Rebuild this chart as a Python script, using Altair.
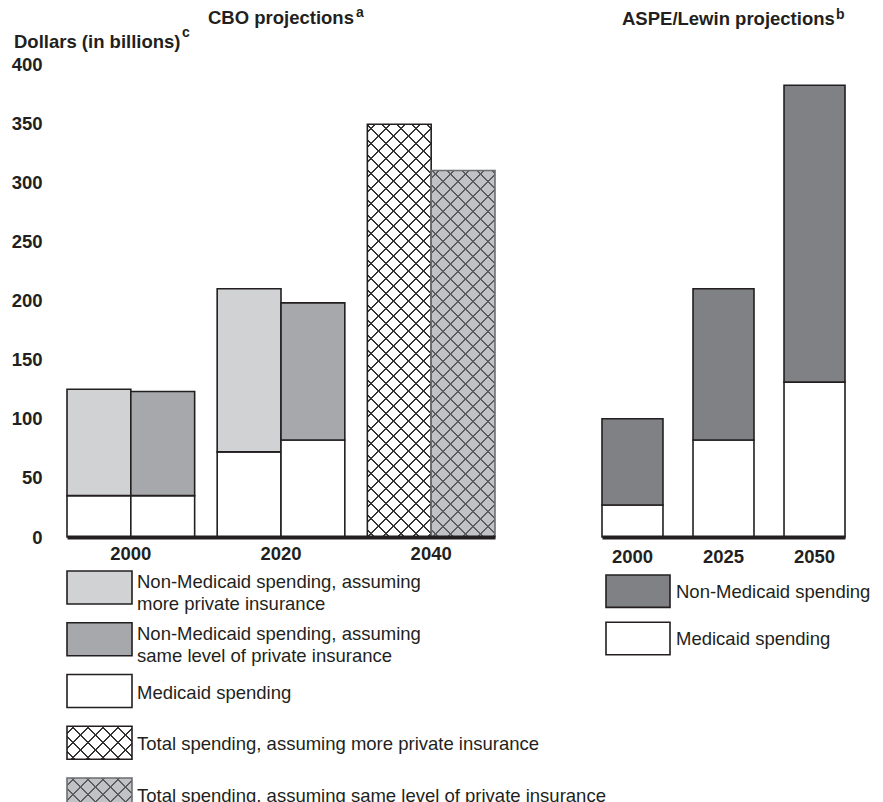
import altair as alt
import pandas as pd

# ---------------- data ----------------
cbo_years = ["2000", "2020", "2040"]
cbo_scenarios = ["more", "same"]
cbo_total_more = [125, 210, 349]
cbo_total_same = [123, 198, 310]
cbo_medicaid_more = [35, 72, None]
cbo_medicaid_same = [35, 82, None]

aspe_years = ["2000", "2025", "2050"]
aspe_total = [100, 210, 382]
aspe_medicaid = [27, 82, 131]

y_ticks = [0, 50, 100, 150, 200, 250, 300, 350, 400]

cbo_legend_labels = [
    "Non-Medicaid spending, assuming\nmore private insurance",
    "Non-Medicaid spending, assuming\nsame level of private insurance",
    "Medicaid spending",
    "Total spending, assuming more private insurance",
    "Total spending, assuming same level of private insurance",
]
cbo_legend_keys = ["nm_more", "nm_same", "med", "hatch_more", "hatch_same"]
aspe_legend_labels = ["Non-Medicaid spending", "Medicaid spending"]
aspe_legend_keys = ["aspe_nm", "med"]

cbo_title = "CBO projections"
aspe_title = "ASPE/Lewin projections"
y_title = "Dollars (in billions)"
sup_a, sup_b, sup_c = "a", "b", "c"

# ---------------- styles ----------------
DARK = "#231f20"
FONT = "Liberation Sans"
key_domain = ["nm_more", "nm_same", "med", "hatch_more", "hatch_same", "aspe_nm"]
key_range = ["#d1d2d4", "#a7a8ab", "#ffffff", "#ffffff", "#c1c2c5", "#808184"]
hatch_line = {"more": "#333333", "same": "#5c5c5e"}
hatch_edge = {"more": DARK, "same": "#6d6e71"}

CBO_W, ASPE_W, PLOT_H, Y_MAX = 428, 243, 473, 400
CBO_PAD, ASPE_PAD = 0.15, 0.33
PERIOD, LW = 15.0, 1.8
SW = 1.6
FS = 18.5

fill_scale = alt.Scale(domain=key_domain, range=key_range)
y_scale = alt.Scale(domain=[0, Y_MAX], nice=False)


def hatch_grad(w, h, color, rising):
    L = w + h
    a = L / (w * w + h * h)
    if rising:
        x1, y1, x2, y2 = 0, 0, a * w, a * h
    else:
        x1, y1, x2, y2 = 0, 1, a * w, 1 - a * h
    clear = "rgba(255,255,255,0)"
    stops = [{"offset": 0, "color": clear}]
    c = PERIOD / 2
    while c < L:
        t0 = max(0.0, (c - LW / 2) / L)
        t1 = min(1.0, (c + LW / 2) / L)
        stops += [
            {"offset": t0, "color": clear},
            {"offset": t0, "color": color},
            {"offset": t1, "color": color},
            {"offset": t1, "color": clear},
        ]
        c += PERIOD
    stops.append({"offset": 1, "color": clear})
    return {"gradient": "linear", "x1": x1, "y1": y1, "x2": x2, "y2": y2, "stops": stops}


def x_axis(pad):
    return alt.Axis(title=None, labelAngle=0, ticks=False, tickSize=0, domainWidth=4,
                    domainColor=DARK, labelFontSize=FS, labelFontWeight="bold",
                    labelColor=DARK, labelFont=FONT, labelPadding=pad, zindex=1)


cbo_y_axis = alt.Axis(values=y_ticks, title=None, ticks=False, tickSize=0, domain=False,
                      grid=False, labelPadding=25, labelFontSize=FS, labelFontWeight="bold",
                      labelColor=DARK, labelFont=FONT)


def txt(s, x, y, size, weight="bold"):
    return alt.Chart(pd.DataFrame({"t": [s]})).mark_text(
        align="left", baseline="middle", fontSize=size, fontWeight=weight,
        color=DARK, font=FONT).encode(text="t:N", x=alt.value(x), y=alt.value(y))


# ---------------- CBO panel ----------------
rows = []
for i, yr in enumerate(cbo_years):
    for scen, tots, meds in (("more", cbo_total_more, cbo_medicaid_more),
                             ("same", cbo_total_same, cbo_medicaid_same)):
        tot, med = tots[i], meds[i]
        if med is None:
            rows.append(dict(year=yr, scenario=scen, bottom=0, top=tot, key="hatch_" + scen))
        else:
            rows.append(dict(year=yr, scenario=scen, bottom=0, top=med, key="med"))
            rows.append(dict(year=yr, scenario=scen, bottom=med, top=tot, key="nm_" + scen))
cbo_df = pd.DataFrame(rows)
cbo_plain = cbo_df[~cbo_df["key"].str.startswith("hatch")]
cbo_hatch = cbo_df[cbo_df["key"].str.startswith("hatch")]


def cbo_base(df):
    return alt.Chart(df).encode(
        x=alt.X("year:N", scale=alt.Scale(domain=cbo_years, paddingInner=CBO_PAD, paddingOuter=0),
                axis=x_axis(7)),
        xOffset=alt.XOffset("scenario:N", scale=alt.Scale(domain=cbo_scenarios, paddingInner=0,
                                                          paddingOuter=0)),
        y=alt.Y("top:Q", scale=y_scale, axis=cbo_y_axis),
        y2=alt.Y2("bottom"),
    )


cbo_layers = [
    cbo_base(cbo_plain).mark_bar(stroke=DARK, strokeWidth=SW).encode(
        fill=alt.Fill("key:N", scale=fill_scale, legend=None)),
    cbo_base(cbo_hatch).mark_bar(strokeWidth=0).encode(
        fill=alt.Fill("key:N", scale=fill_scale, legend=None)),
]
cbo_step = CBO_W / (3 - CBO_PAD)
half_band = cbo_step * (1 - CBO_PAD) / 2
for scen in cbo_scenarios:
    sub = cbo_hatch[cbo_hatch["scenario"] == scen]
    h = float(sub["top"].iloc[0]) * PLOT_H / Y_MAX
    for rising in (True, False):
        cbo_layers.append(cbo_base(sub).mark_bar(
            fill=hatch_grad(half_band, h, hatch_line[scen], rising), strokeWidth=0))
    cbo_layers.append(cbo_base(sub).mark_bar(fillOpacity=0, stroke=hatch_edge[scen], strokeWidth=SW))

cbo_layers += [
    txt(cbo_title, 141, -46, FS),
    txt(sup_a, 289, -51, 14),
    txt(y_title, -53, -22, FS),
    txt(sup_c, 115, -31, 14),
]
cbo_chart = alt.layer(*cbo_layers).properties(width=CBO_W, height=PLOT_H)

# ---------------- ASPE panel ----------------
arows = []
for i, yr in enumerate(aspe_years):
    arows.append(dict(year=yr, bottom=0, top=aspe_medicaid[i], key="med"))
    arows.append(dict(year=yr, bottom=aspe_medicaid[i], top=aspe_total[i], key="aspe_nm"))
aspe_df = pd.DataFrame(arows)

aspe_bars = alt.Chart(aspe_df).mark_bar(stroke=DARK, strokeWidth=SW).encode(
    x=alt.X("year:N", scale=alt.Scale(domain=aspe_years, paddingInner=ASPE_PAD, paddingOuter=0),
            axis=x_axis(10)),
    y=alt.Y("top:Q", scale=y_scale, axis=None),
    y2=alt.Y2("bottom"),
    fill=alt.Fill("key:N", scale=fill_scale, legend=None),
)
aspe_chart = alt.layer(
    aspe_bars,
    txt(aspe_title, 20, -45, FS),
    txt(sup_b, 234, -49, 14),
).properties(width=ASPE_W, height=PLOT_H)

# ---------------- legends ----------------
cleg = pd.DataFrame({"item": list(range(len(cbo_legend_labels))),
                     "label": cbo_legend_labels, "key": cbo_legend_keys})
cleg["lines"] = cleg["label"].str.count("\n") + 1
CLEG_H = 240
cly = alt.Y("item:O", scale=alt.Scale(domain=list(range(len(cbo_legend_labels))),
                                      paddingInner=0.3623, paddingOuter=0), axis=None)
SW_W = 65
sw_h = CLEG_H / (5 - 0.3623) * (1 - 0.3623)


def cleg_rect(df):
    return alt.Chart(df).encode(y=cly, x=alt.value(0), x2=alt.value(SW_W))


cleg_layers = [
    cleg_rect(cleg[~cleg["key"].str.startswith("hatch")]).mark_rect(stroke=DARK, strokeWidth=SW).encode(
        fill=alt.Fill("key:N", scale=fill_scale, legend=None)),
    cleg_rect(cleg[cleg["key"].str.startswith("hatch")]).mark_rect(strokeWidth=0).encode(
        fill=alt.Fill("key:N", scale=fill_scale, legend=None)),
]
for scen in cbo_scenarios:
    sub = cleg[cleg["key"] == "hatch_" + scen]
    for rising in (True, False):
        cleg_layers.append(cleg_rect(sub).mark_rect(
            fill=hatch_grad(SW_W, sw_h, hatch_line[scen], rising), strokeWidth=0))
    cleg_layers.append(cleg_rect(sub).mark_rect(fillOpacity=0, stroke=hatch_edge[scen], strokeWidth=SW))
for n_lines, dy in ((2, -5.5), (1, 1.5)):
    cleg_layers.append(alt.Chart(cleg[cleg["lines"] == n_lines]).mark_text(
        align="left", baseline="middle", fontSize=FS, lineBreak="\n", lineHeight=22,
        color=DARK, font=FONT, dy=dy).encode(y=cly, x=alt.value(70), text="label:N"))
cbo_legend = alt.layer(*cleg_layers).properties(width=CBO_W, height=CLEG_H)

aleg = pd.DataFrame({"item": list(range(len(aspe_legend_labels))),
                     "label": aspe_legend_labels, "key": aspe_legend_keys})
aly = alt.Y("item:O", scale=alt.Scale(domain=list(range(len(aspe_legend_labels))),
                                      paddingInner=0.315, paddingOuter=0.0846), axis=None)
aspe_legend = alt.layer(
    alt.Chart(aleg).mark_rect(stroke=DARK, strokeWidth=SW).encode(
        y=aly, x=alt.value(4), x2=alt.value(68),
        fill=alt.Fill("key:N", scale=fill_scale, legend=None)),
    alt.Chart(aleg).mark_text(align="left", baseline="middle", fontSize=FS, color=DARK,
                              font=FONT, dy=1).encode(y=aly, x=alt.value(74), text="label:N"),
).properties(width=ASPE_W, height=87.7)

chart = alt.concat(
    cbo_chart, aspe_chart, cbo_legend, aspe_legend,
    columns=2, spacing={"row": 34, "column": 107}, bounds="flush",
).properties(
    padding={"left": 3, "top": -2, "right": 0, "bottom": 0}
).configure(font=FONT).configure_view(stroke=None)

chart.save("out.html", embed_options={"renderer": "svg", "actions": False})
